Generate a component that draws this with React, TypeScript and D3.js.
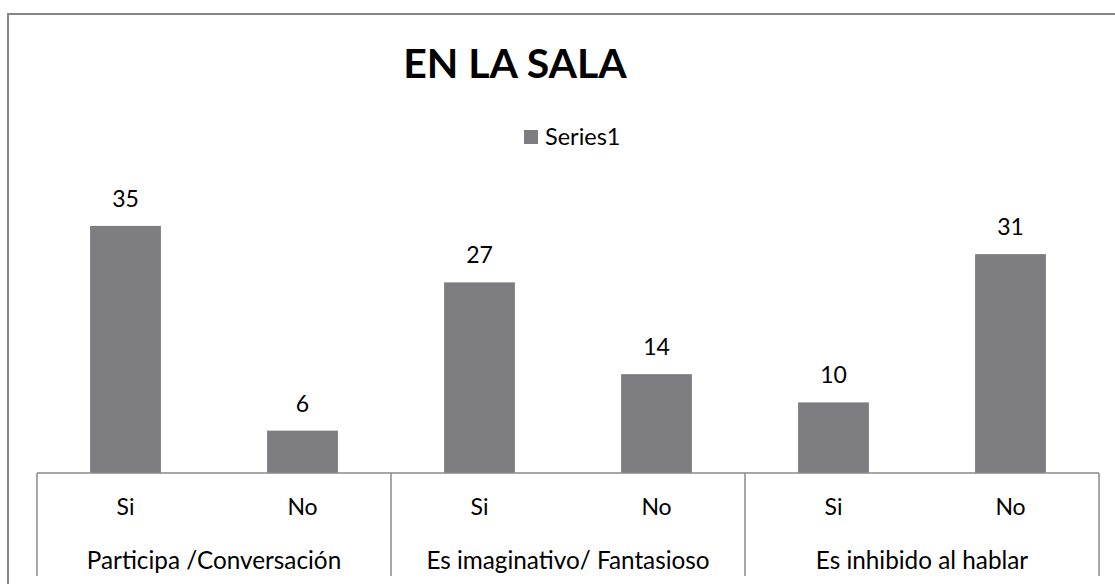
import React from 'react';
import * as d3 from 'd3';

const groups = ['Participa /Conversación', 'Es imaginativo/ Fantasioso', 'Es inhibido al hablar'];
const answers = ['Si', 'No'];
const values = [35, 6, 27, 14, 10, 31];
const seriesName = 'Series1';
const title = 'EN LA SALA';

const W = 1115;
const H = 584;
const font = 'Lato, "Open Sans", sans-serif';
const barColor = '#7d7d81';
const lineColor = '#8a8a8a';

export default function App() {
  const left = 37;
  const right = 1099;
  const baseY = 473;
  const bottom = 576;

  const items = values.map((v, i) => ({
    key: `${groups[Math.floor(i / 2)]}-${answers[i % 2]}`,
    answer: answers[i % 2],
    value: v,
  }));

  const x = d3.scaleBand<string>()
    .domain(items.map(d => d.key))
    .range([left, right])
    .paddingInner(0.6)
    .paddingOuter(0.3);
  const gx = d3.scaleBand<string>().domain(groups).range([left, right]);
  const y = d3.scaleLinear().domain([0, 40]).range([baseY, baseY - 282.4]);

  return (
    <svg width={W} height={H} style={{ position: 'absolute', left: 0, top: 0, background: '#fff' }}>
      <rect x={8} y={14} width={1120} height={600} fill="none" stroke="#878787" strokeWidth={2} />
      <text x={515} y={78} textAnchor="middle" fontFamily={font} fontWeight="bold" fontSize={41} fill="#000">{title}</text>
      <rect x={524} y={130} width={14} height={14} fill={barColor} />
      <text x={545} y={145} fontFamily={font} fontSize={23.5} fill="#000">{seriesName}</text>
      {items.map(d => (
        <g key={d.key}>
          <rect x={x(d.key)} y={y(d.value)} width={x.bandwidth()} height={baseY - y(d.value)} fill={barColor} />
          <text x={(x(d.key) ?? 0) + x.bandwidth() / 2} y={y(d.value) - 19} textAnchor="middle" fontFamily={font} fontSize={23} fill="#000">{d.value}</text>
          <text x={(x(d.key) ?? 0) + x.bandwidth() / 2} y={515} textAnchor="middle" fontFamily={font} fontSize={23} fill="#000">{d.answer}</text>
        </g>
      ))}
      <line x1={left} x2={right} y1={baseY} y2={baseY} stroke={lineColor} strokeWidth={1.5} />
      {groups.map(g => (
        <text key={g} x={(gx(g) ?? 0) + gx.bandwidth() / 2} y={569} textAnchor="middle" fontFamily={font} fontSize={24.3} fill="#000">{g}</text>
      ))}
      {[...groups.map(g => gx(g) ?? 0), right].map((px, i) => (
        <line key={i} x1={px} x2={px} y1={baseY} y2={bottom} stroke={lineColor} strokeWidth={1.5} />
      ))}
    </svg>
  );
}
